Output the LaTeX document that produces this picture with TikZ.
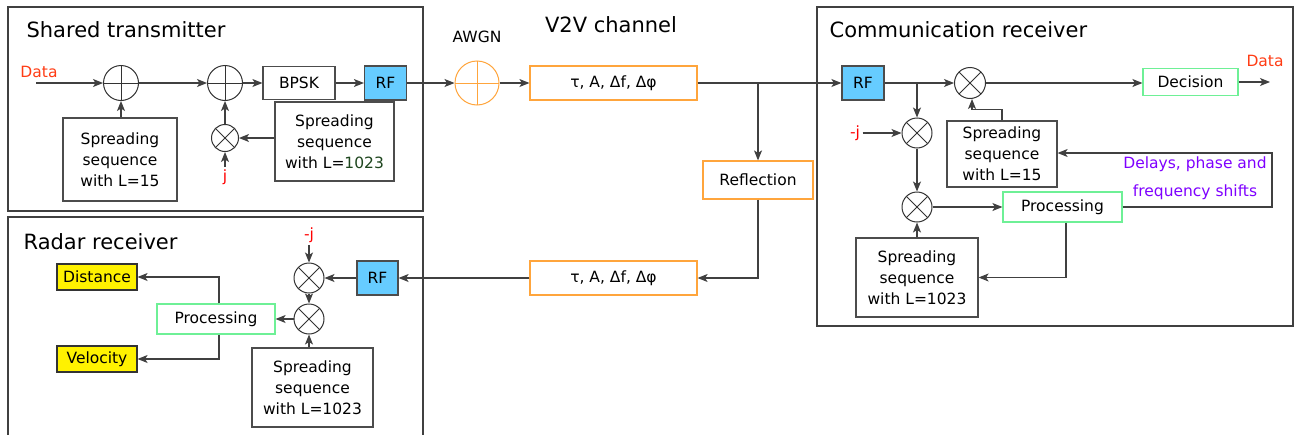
\documentclass[tikz,border=0pt]{standalone}
\usepackage{fontspec}
\setmainfont{DejaVu Sans}
\usepackage{xcolor}
\usepackage{tikz}
\usetikzlibrary{arrows.meta}
\tikzset{>={Stealth[length=10pt,width=8pt,inset=2.5pt]}}

\definecolor{rfblue}{RGB}{102,204,255}
\definecolor{procgreen}{RGB}{110,240,150}
\definecolor{chanorange}{RGB}{255,165,60}
\definecolor{datared}{RGB}{255,60,20}
\definecolor{delaypurple}{RGB}{127,0,255}
\definecolor{numgreen}{RGB}{30,70,30}

\tikzset{
  frame/.style={draw=black!75, line width=1.5pt},
  title/.style={inner sep=0pt, font=\fontsize{21}{25}\selectfont},
  lbl/.style={inner sep=2pt, font=\fontsize{15.5}{18}\selectfont},
  blk/.style={draw=black!70, line width=1.2pt, fill=white, inner sep=0pt,
    align=center, font=\fontsize{15.5}{21}\selectfont},
  rfbox/.style={blk, fill=rfblue, minimum width=42pt, minimum height=34pt},
  grnbox/.style={blk, draw=procgreen},
  chanbox/.style={blk, draw=chanorange, minimum width=167pt, minimum height=34pt},
  ylwbox/.style={blk, draw=black!80, fill=yellow, minimum width=80pt, minimum height=26pt},
  addnode/.style={circle, draw, color=black!80, line width=1pt, fill=white,
    minimum size=#1, inner sep=0pt,
    path picture={\draw (path picture bounding box.north) -- (path picture bounding box.south)
      (path picture bounding box.west) -- (path picture bounding box.east);}},
  mulnode/.style={circle, draw, color=black!80, line width=1pt, fill=white,
    minimum size=#1, inner sep=0pt,
    path picture={\draw (path picture bounding box.north west) -- (path picture bounding box.south east)
      (path picture bounding box.north east) -- (path picture bounding box.south west);}},
}

\begin{document}
\begin{tikzpicture}[x=1pt, y=-1pt, line width=1.2pt, draw=black!75]
\path[use as bounding box, fill=white] (0,0) rectangle (1296,434);

% Frames
\draw[frame] (8,7) rectangle (423,211);
\draw[frame] (8,440) -- (8,217) -- (423,217) -- (423,440);
\draw[frame] (817,7) rectangle (1293,326);

% Shared transmitter
\node[title, anchor=west] (txtitle) at (26,30) {Shared transmitter};
\node[lbl, text=datared] (datain) at (39,72) {Data};
\coordinate (din) at (36,83);
\node[addnode=35] (xor1) at (121,83) {};
\node[addnode=35] (xor2) at (225,83) {};
\node[blk, minimum width=72pt, minimum height=33pt] (bpsk) at (299,83) {BPSK};
\node[rfbox] (txrf) at (385.5,83) {RF};
\node[blk, minimum width=114pt, minimum height=83pt] (seqtxa) at (120,159.5) {Spreading\\sequence\\with L=15};
\node[mulnode=27] (txmul) at (225,138) {};
\node[blk, minimum width=119pt, minimum height=79pt] (seqtxb) at (334.5,141.5) {Spreading\\sequence\\with L=\textcolor{numgreen}{1023}};
\node[lbl, text=red] (jtx) at (225,177) {j};

\draw[->] (din) -- (xor1.west);
\draw[->] (xor1.east) -- (xor2.west);
\draw[->] (xor2.east) -- (bpsk.west);
\draw[->] (bpsk.east) -- (txrf.west);
\draw[->] (seqtxa.north -| xor1) -- (xor1.south);
\draw[->] (txmul.north) -- (xor2.south);
\draw[->] (seqtxb.west |- txmul) -- (txmul.east);
\draw[->] (jtx.north) -- (txmul.south);

% V2V channel
\node[lbl] (awgnlbl) at (477,37) {AWGN};
\node[title] (chtitle) at (611,25) {V2V channel};
\node[addnode=44, color=chanorange, fill=white] (awgn) at (477,83) {};
\node[chanbox] (chtop) at (613.5,83) {τ, A, Δf, Δφ};
\node[chanbox, minimum width=110pt, minimum height=38pt] (refl) at (758,180) {Reflection};
\node[chanbox] (chbot) at (613.5,278) {τ, A, Δf, Δφ};
\coordinate (split) at (758,83);

% Communication receiver
\node[title, anchor=west] (rxtitle) at (829,30) {Communication receiver};
\node[rfbox] (rxrf) at (863,83) {RF};
\node[mulnode=31] (rxmula) at (970,83) {};
\node[mulnode=30] (rxmulb) at (917,133) {};
\node[mulnode=30] (rxmulc) at (917,207) {};
\node[lbl, text=red] (mjrx) at (855,133) {-j};
\node[grnbox, minimum width=95pt, minimum height=27pt] (decis) at (1190.5,82) {Decision};
\coordinate (dout) at (1270,82);
\node[lbl, text=datared] (dataout) at (1265,61) {Data};
\node[grnbox, minimum width=119pt, minimum height=30pt] (rxproc) at (1062.5,207) {Processing};
\node[blk, minimum width=110pt, minimum height=66pt] (seqrxa) at (1002,154) {Spreading\\sequence\\with L=15};
\node[blk, minimum width=122pt, minimum height=79pt] (seqrxb) at (917,277.5) {Spreading\\sequence\\with L=1023};
\node[lbl, text=delaypurple] (dly1) at (1195,164) {Delays, phase and};
\node[lbl, text=delaypurple] (dly2) at (1195,192) {frequency shifts};
\coordinate (fbk) at (1272,153);

% Radar receiver
\node[title, anchor=west] (rdtitle) at (23,242) {Radar receiver};
\node[ylwbox] (dist) at (97,277) {Distance};
\node[ylwbox] (velo) at (97,359) {Velocity};
\node[grnbox, minimum width=118pt, minimum height=30pt] (rdproc) at (216,319) {Processing};
\node[mulnode=30] (rdmula) at (309,278) {};
\node[mulnode=30] (rdmulb) at (309,319) {};
\node[lbl, text=red] (mjrd) at (309,235) {-j};
\node[rfbox, minimum width=41pt] (rdrf) at (377.5,278) {RF};
\node[blk, minimum width=121pt, minimum height=79pt] (seqrd) at (312.5,387.5) {Spreading\\sequence\\with L=1023};

% channel links
\draw[->] (txrf.east) -- (awgn.west);
\draw[->] (awgn.east) -- (chtop.west);
\draw[->] (chtop.east) -- (rxrf.west);
\draw[->] (split) -- (refl.north);
\draw[->] (refl.south) |- (chbot.east);
\draw[->] (chbot.west) -- (rdrf.east);

% receiver links
\draw[->] (rxrf.east) -- (rxmula.west);
\draw[->] (rxmulb |- rxrf.east) -- (rxmulb.north);
\draw[->] (mjrx.east) -- (rxmulb.west);
\draw[->] (rxmulb.south) -- (rxmulc.north);
\draw[->] (rxmulc.east) -- (rxproc.west |- rxmulc);
\draw[->] (seqrxb.north) -- (rxmulc.south);
\draw[->] (seqrxa.north) -- ++(0,-11) -| ([xshift=2pt]rxmula.south);
\draw[->] (rxmula.east) -- (rxmula.east -| decis.west);
\draw[->] (decis.east) -- (dout);
\draw[->] (rxproc.east) -| (fbk) -- (seqrxa.east |- fbk);
\draw[->] ([xshift=3.5pt]rxproc.south) |- (seqrxb.east);

% radar links
\draw[->] (rdrf.west) -- (rdmula.east);
\draw[->] (mjrd.south) -- (rdmula.north);
\draw[->] (rdmula.south) -- (rdmulb.north);
\draw[->] (rdmulb.west) -- (rdproc.east);
\draw[->] (seqrd.north -| rdmulb) -- (rdmulb.south);
\draw[->] ([xshift=3pt]rdproc.north) |- (dist.east);
\draw[->] ([xshift=3pt]rdproc.south) |- (velo.east);

\end{tikzpicture}
\end{document}
